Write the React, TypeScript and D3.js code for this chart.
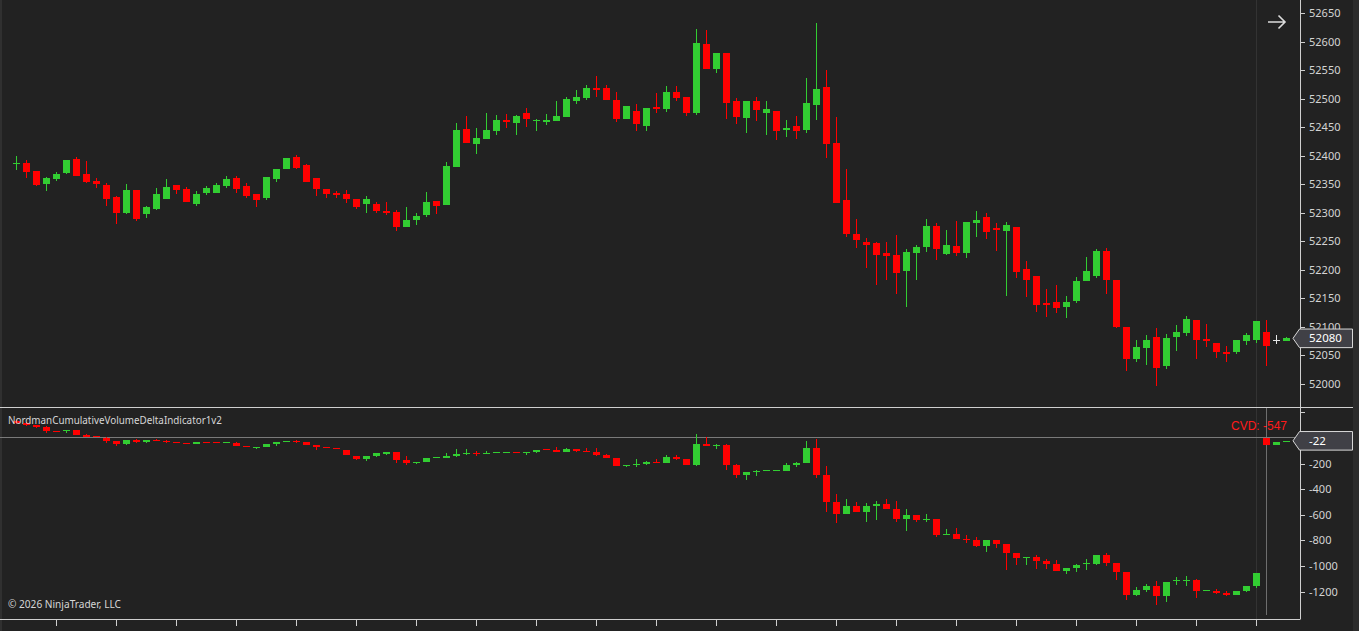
import React from "react";
import * as d3 from "d3";

// ---------- Price candles (points) ----------
const priceOpen = [52386,52387,52373,52351,52359,52370,52394,52368,52356,52349,52328,52300,52340,52297,52307,52325,52349,52342,52316,52335,52335,52347,52361,52347,52333,52326,52359,52377,52398,52384,52361,52342,52335,52333,52324,52315,52315,52303,52301,52275,52287,52296,52321,52314,52381,52447,52420,52429,52443,52463,52457,52475,52461,52459,52461,52468,52496,52501,52519,52519,52498,52464,52478,52452,52485,52482,52512,52503,52475,52596,52552,52580,52496,52466,52496,52475,52478,52445,52452,52445,52489,52520,52422,52322,52263,52249,52247,52230,52226,52198,52230,52240,52277,52228,52242,52230,52282,52293,52273,52268,52275,52201,52189,52142,52144,52135,52145,52180,52189,52233,52182,52100,52044,52063,52082,52032,52082,52089,52112,52079,52072,52056,52056,52075,52077,52091,52077,52076];
const priceHigh = [52399,52392,52373,52363,52371,52392,52398,52391,52361,52352,52329,52350,52340,52312,52343,52359,52349,52345,52338,52347,52352,52364,52364,52352,52333,52363,52377,52396,52401,52385,52361,52342,52338,52340,52324,52329,52319,52319,52305,52310,52300,52336,52321,52389,52457,52470,52449,52475,52471,52473,52471,52484,52464,52473,52496,52503,52515,52524,52540,52524,52512,52487,52491,52484,52510,52522,52522,52503,52622,52620,52580,52580,52501,52496,52503,52496,52478,52463,52470,52536,52632,52550,52468,52377,52289,52256,52249,52249,52261,52237,52244,52289,52282,52270,52286,52284,52303,52300,52282,52284,52275,52215,52189,52166,52173,52154,52187,52222,52237,52238,52182,52100,52077,52086,52098,52088,52103,52119,52112,52105,52072,52067,52077,52089,52110,52112,52086,52082];
const priceLow = [52375,52361,52347,52339,52356,52368,52365,52353,52344,52311,52281,52297,52286,52291,52305,52325,52333,52318,52312,52331,52334,52344,52335,52326,52310,52323,52354,52377,52377,52354,52329,52326,52326,52317,52307,52300,52300,52296,52268,52275,52279,52293,52298,52314,52381,52422,52403,52429,52436,52449,52436,52450,52443,52454,52461,52468,52491,52498,52503,52498,52459,52464,52443,52443,52475,52477,52496,52470,52471,52552,52545,52464,52456,52440,52461,52436,52428,52433,52429,52440,52463,52396,52317,52258,52238,52203,52173,52182,52158,52135,52182,52231,52217,52226,52224,52221,52258,52254,52233,52154,52186,52152,52126,52117,52124,52116,52142,52180,52186,52158,52098,52023,52039,52033,51996,52026,52058,52084,52044,52065,52046,52039,52053,52068,52072,52032,52070,52075];
const priceClose = [52388,52372,52349,52361,52368,52392,52365,52354,52351,52325,52300,52340,52289,52310,52333,52345,52340,52319,52333,52343,52349,52359,52342,52330,52322,52363,52377,52396,52378,52354,52342,52333,52331,52324,52310,52324,52303,52300,52275,52287,52294,52319,52312,52382,52445,52422,52431,52445,52463,52459,52470,52464,52463,52463,52470,52499,52503,52519,52515,52498,52464,52487,52456,52484,52482,52512,52501,52475,52597,52552,52580,52492,52468,52496,52480,52482,52443,52449,52443,52492,52517,52420,52317,52263,52252,52244,52226,52224,52194,52231,52240,52277,52237,52244,52230,52284,52287,52266,52270,52279,52196,52182,52138,52138,52133,52144,52180,52198,52233,52182,52100,52044,52065,52077,52028,52081,52091,52114,52077,52075,52056,52053,52077,52086,52110,52067,52077,52080];

// ---------- Cumulative volume delta candles ----------
const cvdOpen = [133,117,99,83,52,52,60,23,16,2,-21,-47,-16,-29,-16,-23,-31,-39,-44,-31,-33,-37,-39,-60,-76,-68,-47,-29,-21,-31,-55,-68,-78,-94,-140,-164,-140,-125,-109,-172,-195,-187,-154,-156,-140,-125,-117,-125,-115,-115,-109,-115,-109,-86,-94,-109,-86,-101,-109,-133,-156,-216,-208,-203,-187,-195,-148,-164,-208,-47,-60,-55,-211,-289,-265,-255,-255,-257,-211,-195,-78,-289,-499,-593,-530,-577,-530,-515,-554,-632,-601,-640,-632,-757,-749,-788,-796,-842,-796,-827,-897,-934,-928,-959,-983,-1037,-1014,-988,-983,-913,-975,-1045,-1225,-1186,-1154,-1232,-1121,-1115,-1108,-1191,-1193,-1209,-1225,-1193,-1154,2,-52,-31];
const cvdHigh = [140,122,101,91,52,62,62,31,16,10,-21,-16,-8,-16,-8,-16,-31,-39,-31,-31,-33,-31,-31,-60,-68,-47,-31,-23,-13,-31,-55,-68,-78,-94,-140,-140,-115,-109,-109,-140,-187,-156,-148,-117,-86,-86,-101,-101,-109,-109,-109,-109,-94,-86,-70,-78,-86,-78,-78,-125,-156,-211,-164,-179,-164,-133,-133,-164,31,5,-47,-47,-203,-265,-250,-250,-250,-195,-187,-23,-8,-218,-437,-476,-499,-507,-491,-476,-491,-554,-601,-593,-632,-710,-702,-757,-772,-796,-796,-827,-897,-928,-913,-944,-952,-1014,-983,-944,-913,-897,-975,-1045,-1162,-1139,-1115,-1123,-1084,-1076,-1100,-1186,-1178,-1193,-1193,-1154,-1053,2,-34,-22];
const cvdLow = [112,95,81,41,47,41,25,8,10,-37,-60,-55,-37,-39,-26,-39,-37,-44,-44,-37,-37,-37,-60,-73,-83,-68,-60,-29,-37,-52,-91,-76,-86,-135,-169,-179,-146,-133,-193,-211,-203,-187,-154,-156,-148,-133,-140,-125,-115,-115,-115,-133,-115,-91,-109,-109,-109,-109,-140,-154,-216,-224,-224,-208,-197,-195,-172,-208,-218,-62,-83,-247,-310,-325,-294,-255,-255,-257,-224,-195,-310,-575,-663,-593,-577,-655,-640,-554,-655,-725,-655,-655,-772,-757,-788,-819,-850,-889,-858,-1030,-991,-996,-1022,-1022,-1037,-1061,-1045,-1030,-991,-998,-1108,-1264,-1232,-1201,-1303,-1279,-1147,-1154,-1248,-1191,-1217,-1232,-1225,-1201,-1170,-57,-52,-31];
const cvdClose = [117,99,83,52,47,62,26,8,10,-21,-49,-16,-29,-16,-21,-29,-37,-44,-31,-37,-37,-31,-60,-73,-68,-47,-31,-23,-25,-52,-68,-76,-86,-135,-164,-140,-119,-109,-172,-193,-187,-156,-148,-140,-125,-117,-125,-115,-109,-109,-115,-109,-94,-91,-109,-86,-101,-107,-133,-154,-216,-211,-203,-187,-195,-148,-164,-208,-47,-62,-52,-208,-289,-265,-257,-250,-250,-211,-195,-78,-289,-499,-593,-530,-577,-530,-515,-554,-632,-601,-640,-632,-757,-749,-788,-796,-842,-796,-827,-897,-934,-928,-959,-983,-1037,-1014,-991,-980,-913,-975,-1045,-1225,-1186,-1154,-1232,-1123,-1113,-1108,-1193,-1186,-1209,-1225,-1193,-1154,-1053,-57,-34,-22];

// ---------- Axis ticks / labels ----------
const priceTicks = [52000,52050,52100,52150,52200,52250,52300,52350,52400,52450,52500,52550,52600,52650];
const cvdTicks = [200,0,-200,-400,-600,-800,-1000,-1200];
const cvdLabelTicks = [-200,-400,-600,-800,-1000,-1200];
const indicatorTitle = "NordmanCumulativeVolumeDeltaIndicator1v2";
const copyright = "© 2026 NinjaTrader, LLC";
const cvdText = "CVD: -547";
const lastPrice = 52080;
const lastCvd = -22;

const W = 1359, H = 631;
const GREEN = "#32cd32", RED = "#ff0000", DOJI = "#e6e6e6";
const AXIS = "#cfcfcf";
const FONT = "'Noto Sans', 'Open Sans', sans-serif";

const n = priceOpen.length;
const x = d3.scaleLinear().domain([0, n - 1]).range([16, 16 + 10 * (n - 1)]);
const yP = d3.scaleLinear().domain([52000, 52650]).range([384, 13]);
const yC = d3.scaleLinear().domain([0, -1200]).range([438, 591.6]);

function color(o: number, c: number) {
  return c > o ? GREEN : c < o ? RED : DOJI;
}

function Candles({ O, Hi, L, C, y, k }: any) {
  return (
    <g>
      {O.map((o: number, i: number) => {
        const c = C[i];
        const col = color(o, c);
        const xc = Math.round(x(i));
        const top = Math.round(y(Math.max(o, c)));
        const bot = Math.round(y(Math.min(o, c)));
        const hTop = Math.round(y(Math.max(Hi[i], o, c)));
        const hBot = Math.round(y(Math.min(L[i], o, c)));
        return (
          <g key={k + i}>
            <rect x={xc} y={hTop} width={1} height={Math.max(1, hBot - hTop)} fill={col} />
            <rect x={xc - 3} y={top} width={7} height={Math.max(1, bot - top)} fill={col} />
          </g>
        );
      })}
    </g>
  );
}

function Marker({ yc, label }: { yc: number; label: string }) {
  const t = yc - 9.3, b = yc + 9.3;
  const pts = `1293,${yc} 1299.5,${t} 1352.5,${t} 1352.5,${b} 1299.5,${b}`;
  return (
    <g>
      <polygon points={pts} fill="#404046" stroke="#d8d8d8" strokeWidth={1} />
      <text x={1309} y={yc + 4} fill="#ffffff" fontSize={11.5} fontFamily={FONT}>{label}</text>
    </g>
  );
}

export default function App() {
  const xTicks = d3.range(4, n, 6);
  return (
    <svg width={W} height={H} style={{ position: "fixed", left: 0, top: 0, display: "block" }}>
      <defs>
        <clipPath id="pricePane"><rect x={0} y={0} width={1300} height={407} /></clipPath>
        <clipPath id="cvdPane"><rect x={0} y={408} width={1300} height={211} /></clipPath>
      </defs>
      <rect x={0} y={0} width={W} height={H} fill="#222222" />
      <rect x={0} y={0} width={2} height={H} fill="#303030" />
      <rect x={1353} y={0} width={6} height={H} fill="#2c2c2c" />

      {/* session / grid vertical lines */}
      <line x1={1256.5} x2={1256.5} y1={0} y2={619} stroke="#333333" />
      <line x1={1266.5} x2={1266.5} y1={408} y2={615} stroke="#6e6e6e" />

      {/* zero line of indicator */}
      <line x1={0} x2={1300} y1={437.5} y2={437.5} stroke="#7a7a7a" />

      <g clipPath="url(#pricePane)">
        <Candles O={priceOpen} Hi={priceHigh} L={priceLow} C={priceClose} y={yP} k="p" />
      </g>
      <g clipPath="url(#cvdPane)">
        <Candles O={cvdOpen} Hi={cvdHigh} L={cvdLow} C={cvdClose} y={yC} k="c" />
      </g>

      {/* frame */}
      <line x1={0} x2={1353} y1={407.5} y2={407.5} stroke={AXIS} />
      <line x1={0} x2={1300} y1={619.5} y2={619.5} stroke={AXIS} />
      <line x1={1300.5} x2={1300.5} y1={0} y2={619.5} stroke={AXIS} />

      {/* x ticks */}
      {xTicks.map((i) => (
        <line key={"xt" + i} x1={Math.round(x(i)) + 0.5} x2={Math.round(x(i)) + 0.5} y1={620} y2={626} stroke={AXIS} />
      ))}

      {/* price axis */}
      {priceTicks.map((v) => (
        <g key={"pt" + v}>
          <line x1={1301} x2={1305} y1={Math.round(yP(v)) + 0.5} y2={Math.round(yP(v)) + 0.5} stroke={AXIS} />
          <text x={1309} y={yP(v) + 4} fill="#d4d4d4" fontSize={11} fontFamily={FONT}>{v}</text>
        </g>
      ))}
      {/* cvd axis */}
      {cvdTicks.map((v) => (
        <line key={"ct" + v} x1={1301} x2={1305} y1={Math.round(yC(v)) + 0.5} y2={Math.round(yC(v)) + 0.5} stroke={AXIS} />
      ))}
      {cvdLabelTicks.map((v) => (
        <text key={"cl" + v} x={1309} y={yC(v) + 4} fill="#d4d4d4" fontSize={11} fontFamily={FONT}>{v}</text>
      ))}

      <Marker yc={yP(lastPrice)} label={String(lastPrice)} />
      <Marker yc={yC(lastCvd)} label={String(lastCvd)} />

      {/* arrow */}
      <path d="M1268,22 H1285 M1278.5,15.5 L1285,22 L1278.5,28.5" stroke="#dcdcdc" strokeWidth={1.6} fill="none" />

      <text x={8} y={424} fill="#d6d6d6" fontSize={11} fontFamily={FONT} textLength={214} lengthAdjust="spacingAndGlyphs">{indicatorTitle}</text>
      <text x={8} y={608} fill="#d6d6d6" fontSize={11} fontFamily={FONT} textLength={113} lengthAdjust="spacingAndGlyphs">{copyright}</text>
      <text x={1287} y={429.5} fill="#ff1a1a" fontSize={12} fontFamily="'Liberation Sans', Arial, sans-serif" textAnchor="end">{cvdText}</text>
    </svg>
  );
}
